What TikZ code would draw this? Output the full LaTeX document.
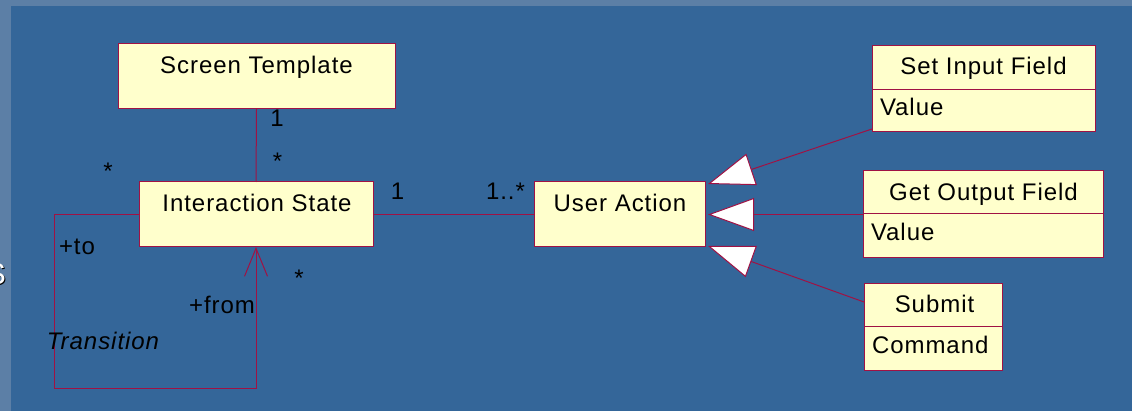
\documentclass[tikz,border=0pt]{standalone}
\usepackage{fontspec}
\setmainfont{Liberation Sans}[LetterSpace=4]
\usetikzlibrary{arrows.meta,calc}
\definecolor{outerbg}{RGB}{92,127,166}
\definecolor{panel}{RGB}{52,102,153}
\definecolor{edge}{RGB}{160,18,68}
\definecolor{clsfill}{RGB}{255,255,204}
\tikzset{
  cls/.style={draw=edge, fill=clsfill, line width=1pt, inner sep=0pt, outer sep=0pt},
  txt/.style={inner sep=0pt, outer sep=0pt, font=\fontsize{24}{24}\selectfont, text=black},
  assoc/.style={draw=edge, line width=1pt},
  gen/.style={draw=edge, line width=1pt, -{Triangle[length=46pt,width=33pt,fill=white]}},
  nav/.style={draw=edge, line width=1pt, -{Straight Barb[length=28pt,width=23pt]}},
}
\begin{document}
\begin{tikzpicture}[x=1pt,y=-1pt]
\fill[outerbg] (0,0) rectangle (1132,411);
\fill[panel] (11,6) rectangle (1132,411);
\useasboundingbox (0,0) rectangle (1132,411);
% partial slide text at the left edge
\begin{scope}
\clip (0,0) rectangle (11,411);
\node[txt, anchor=base east, text=black, font=\fontsize{30}{30}\selectfont] (cutshadow) at (7,286) {S};
\node[txt, anchor=base east, text=white, font=\fontsize{30}{30}\selectfont] (cut) at (6,285) {S};
\end{scope}
% classes
\node[cls, minimum width=277pt, minimum height=65pt] (st) at (256.5,76.5) {};
\node[cls, minimum width=234pt, minimum height=65pt] (is) at (256,214.5) {};
\node[cls, minimum width=171pt, minimum height=65pt] (ua) at (619.5,214.5) {};
\node[cls, minimum width=223pt, minimum height=86pt] (sif) at (983.5,89) {};
\node[cls, minimum width=240pt, minimum height=87pt] (gof) at (983,214.5) {};
\node[cls, minimum width=138pt, minimum height=86pt] (sub) at (933,327) {};
\draw[assoc] ($(sif.north west)+(0,44)$) -- ($(sif.north east)+(0,44)$);
\draw[assoc] ($(gof.north west)+(0,43)$) -- ($(gof.north east)+(0,43)$);
\draw[assoc] ($(sub.north west)+(0,43)$) -- ($(sub.north east)+(0,43)$);
% class texts
\node[txt, anchor=base] (stn) at (256.5,74) {Screen Template};
\node[txt, anchor=base] (isn) at (257,212) {Interaction State};
\node[txt, anchor=base] (uan) at (620,212) {User Action};
\node[txt, anchor=base] (sifn) at (983.5,75) {Set Input Field};
\node[txt, anchor=base west] (sifa) at (880,116) {Value};
\node[txt, anchor=base] (gofn) at (983.5,200.5) {Get Output Field};
\node[txt, anchor=base west] (gofa) at (871,240.5) {Value};
\node[txt, anchor=base] (subn) at (934.5,312.5) {Submit};
\node[txt, anchor=base west] (suba) at (872,353) {Command};
% associations
\draw[assoc] (st.south) -- (is.north);
\draw[assoc] (is.east) -- (ua.west);
\coordinate (lp) at (54,388);
\draw[nav] (is.west) -| (lp) -| (is.south);
% generalizations
\draw[gen] ($(sif.south west)+(0,-3)$) -- ($(ua.north east)+(3,2)$);
\draw[gen] (gof.west) -- ($(ua.east)+(3,0)$);
\draw[gen] ($(sub.north west)+(0,18)$) -- ($(ua.south east)+(3,-1)$);
% multiplicities and roles
\node[txt, anchor=base] (m1) at (277,127) {1};
\node[txt, anchor=base] (m2) at (277.5,169.5) {*};
\node[txt, anchor=base] (m3) at (108,179.5) {*};
\node[txt, anchor=base] (m4) at (299,286.5) {*};
\node[txt, anchor=base] (m5) at (397.5,200) {1};
\node[txt, anchor=base] (m6) at (505.5,200) {1..*};
\node[txt, anchor=base] (rto) at (77,255) {+to};
\node[txt, anchor=base] (rfrom) at (222,314) {+from};
\node[txt, anchor=base, font=\fontsize{24}{24}\selectfont\itshape] (tr) at (103,349) {Transition};
\end{tikzpicture}
\end{document}
